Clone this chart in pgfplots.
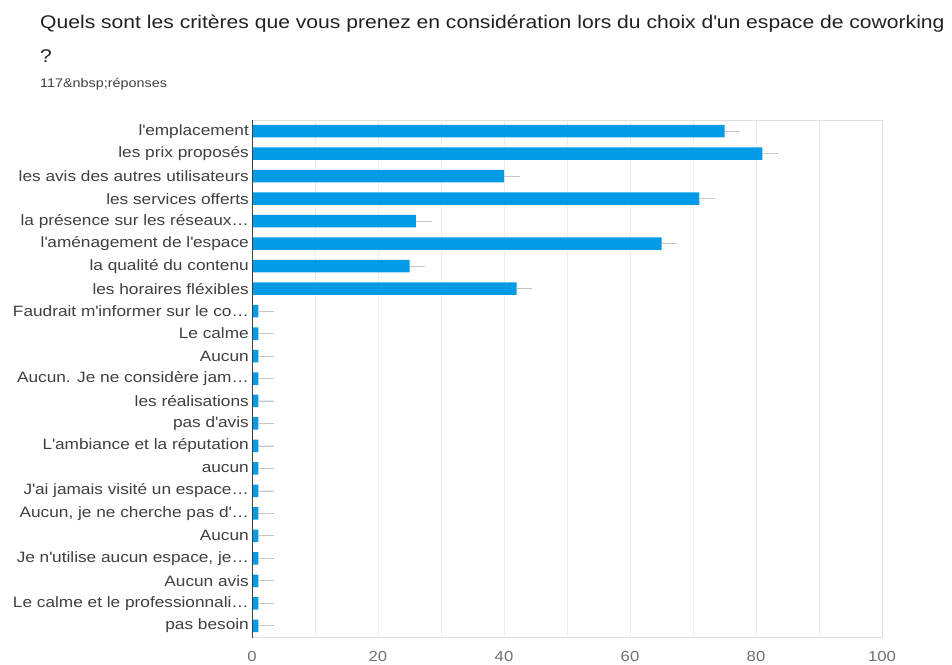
\documentclass[border=0pt]{standalone}
\usepackage{fontspec}
\setmainfont{Liberation Sans}[FakeStretch=1.15]
\usepackage{pgfplots}
\pgfplotsset{compat=1.18}
\definecolor{barblue}{RGB}{3,155,229}
\definecolor{titlecol}{RGB}{32,33,36}
\definecolor{labcol}{RGB}{60,64,67}
\definecolor{tickcol}{RGB}{110,114,118}
\definecolor{gridcol}{RGB}{238,238,238}
\definecolor{boxcol}{RGB}{224,224,224}
\begin{document}
\begin{tikzpicture}[x=1pt,y=1pt]
\path[use as bounding box] (0pt,0pt) rectangle (952pt,-664pt);
\node[anchor=base west, inner sep=0pt, text=titlecol, font=\fontsize{18.35}{20}\selectfont] at (40pt,-28pt) {Quels sont les critères que vous prenez en considération lors du choix d\textquotesingle un espace de coworking};
\node[anchor=base west, inner sep=0pt, text=titlecol, font=\fontsize{18.35}{20}\selectfont] at (40pt,-62pt) {?};
\node[anchor=base west, inner sep=0pt, text=labcol, font=\fontsize{12.5}{14}\selectfont] at (40pt,-87pt) {117\&nbsp;réponses};
\begin{axis}[
  at={(252pt,-120pt)}, anchor=north west,
  scale only axis, width=630pt, height=517pt,
  xmin=0, xmax=100, ymin=-0.5, ymax=22.5,
  y dir=reverse,
  ytick={0,...,22},
  yticklabels={l\textquotesingle emplacement, les prix proposés, les avis des autres utilisateurs, les services offerts, {la présence sur les réseaux…}, l\textquotesingle aménagement de l\textquotesingle espace, la qualité du contenu, les horaires fléxibles, {Faudrait m\textquotesingle informer sur le co…}, Le calme, Aucun, {Aucun. Je ne considère jam…}, les réalisations, pas d\textquotesingle avis, L\textquotesingle ambiance et la réputation, aucun, {J\textquotesingle ai jamais visité un espace…}, {Aucun, je ne cherche pas d\textquotesingle…}, Aucun, {Je n\textquotesingle utilise aucun espace, je…}, Aucun avis, {Le calme et le professionnali…}, pas besoin},
  xtick={0,20,...,100},
  minor xtick={10,30,50,70,90},
  xmajorgrids, xminorgrids,
  major grid style={draw=gridcol, line width=0.8pt},
  minor grid style={draw=gridcol, line width=0.8pt},
  axis line style={draw=boxcol, line width=0.8pt},
  major tick length=0pt, minor tick length=0pt,
  yticklabel style={font=\fontsize{15}{17}\selectfont, text=labcol, inner sep=0pt, xshift=-3pt},
  xticklabel style={font=\fontsize{14.5}{16}\selectfont, text=tickcol, inner sep=0pt, yshift=-14pt},
  /pgf/number format/assume math mode=true,
]
\addplot[xbar, bar width=12.5pt, bar shift=0pt, fill=barblue, draw=none,
  error bars/.cd, x dir=plus, x explicit, error mark=none,
  error bar style={draw=gray!45, line width=0.8pt}]
coordinates {
(75,0) +- (2.5,0)
(81,1) +- (2.5,0)
(40,2) +- (2.5,0)
(71,3) +- (2.5,0)
(26,4) +- (2.5,0)
(65,5) +- (2.5,0)
(25,6) +- (2.5,0)
(42,7) +- (2.5,0)
(1,8) +- (2.5,0)
(1,9) +- (2.5,0)
(1,10) +- (2.5,0)
(1,11) +- (2.5,0)
(1,12) +- (2.5,0)
(1,13) +- (2.5,0)
(1,14) +- (2.5,0)
(1,15) +- (2.5,0)
(1,16) +- (2.5,0)
(1,17) +- (2.5,0)
(1,18) +- (2.5,0)
(1,19) +- (2.5,0)
(1,20) +- (2.5,0)
(1,21) +- (2.5,0)
(1,22) +- (2.5,0)
};
\addplot[draw=black!75, line width=1.3pt, forget plot] coordinates {(0,-0.5) (0,22.6)};
\end{axis}
\end{tikzpicture}
\end{document}
